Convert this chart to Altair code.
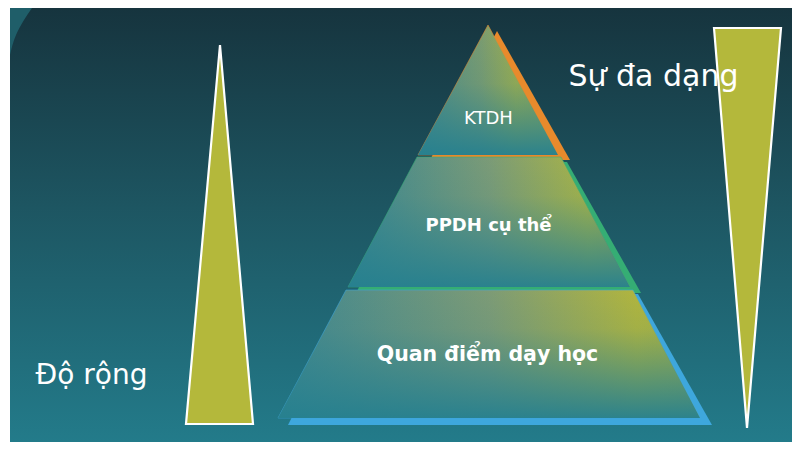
import altair as alt
import pandas as pd

# ---------------- data (image pixel space) ----------------
X_MIN, X_MAX = 10, 792
Y_MIN, Y_MAX = 8, 442

# background gradient colours
bg_colors = ["#16343e", "#1d5561", "#237b8a"]

# top-left lighter wedge
wedge_y = [8, 20, 35, 55]
wedge_xl = [10, 10, 10, 10]
wedge_xr = [32, 24, 16, 10]

# pyramid layers (main faces)
layer_names = ["KTDH", "PPDH cụ thể", "Quan điểm dạy học"]
layer_y_top = [25, 157, 290]
layer_y_bottom = [155, 287, 418]
layer_xl_top = [488, 417, 346]
layer_xr_top = [488, 561, 633]
layer_xl_bottom = [418, 348, 278]
layer_xr_bottom = [558, 630, 700]
layer_edge_colors = ["#e88a2c", "#35ad74", "#3ea7dd"]

# offset (3D edge) faces behind each layer
shadow_y_top = [31, 162, 294]
shadow_y_bottom = [160, 293, 425]
shadow_xl_top = [497, 424, 354]
shadow_xr_top = [497, 567, 638]
shadow_xl_bottom = [430, 356, 288]
shadow_xr_bottom = [570, 641, 712]

# labels of layers
label_x = [488.5, 488.5, 487.5]
label_y = [124, 231, 361]
label_size = [18, 18, 20.5]

# side wedges
wedge_names = ["Độ rộng", "Sự đa dạng"]
side_y_top = [45, 28]
side_y_bottom = [424, 428]
side_xl_top = [220, 714]
side_xr_top = [220, 781]
side_xl_bottom = [186, 747]
side_xr_bottom = [253, 747]
side_label_x = [91.5, 653.5]
side_label_y = [384, 86]
side_label_size = [28, 30]


def poly_df(names, yt, yb, xlt, xrt, xlb, xrb):
    rows = []
    for i, n in enumerate(names):
        rows.append({"name": n, "y": yt[i], "xl": xlt[i], "xr": xrt[i]})
        rows.append({"name": n, "y": yb[i], "xl": xlb[i], "xr": xrb[i]})
    return pd.DataFrame(rows)


W, H = X_MAX - X_MIN, Y_MAX - Y_MIN
xs = alt.Scale(domain=[X_MIN, X_MAX], nice=False, zero=False)
ys = alt.Scale(domain=[Y_MIN, Y_MAX], nice=False, zero=False, reverse=True)


def area_enc(chart):
    return chart.encode(
        y=alt.Y("y:Q", scale=ys, axis=None),
        x=alt.X("xl:Q", scale=xs, axis=None, stack=None),
        x2="xr:Q",
        detail="name:N",
    )


# background
bg_df = pd.DataFrame({"x": [X_MIN], "x2": [X_MAX], "y": [Y_MIN], "y2": [Y_MAX]})
background = alt.Chart(bg_df).mark_rect(
    fill=alt.LinearGradient(
        gradient="linear", x1=0, y1=0, x2=0, y2=1,
        stops=[alt.GradientStop(color=bg_colors[0], offset=0),
               alt.GradientStop(color=bg_colors[1], offset=0.45),
               alt.GradientStop(color=bg_colors[2], offset=1)],
    ),
).encode(
    x=alt.X("x:Q", scale=xs, axis=None), x2="x2:Q",
    y=alt.Y("y:Q", scale=ys, axis=None), y2="y2:Q",
)

wedge_df = pd.DataFrame({"name": "w", "y": wedge_y, "xl": wedge_xl, "xr": wedge_xr})
wedge = area_enc(alt.Chart(wedge_df).mark_area(orient="horizontal", color="#1f5e69", interpolate="monotone"))

# side wedges
side_df = poly_df(wedge_names, side_y_top, side_y_bottom, side_xl_top, side_xr_top,
                  side_xl_bottom, side_xr_bottom)
sides = area_enc(alt.Chart(side_df).mark_area(
    orient="horizontal", fill="#b4b83b", stroke="white", strokeWidth=2.2, strokeJoin="miter"))

# shadow faces
layers = [background, wedge, sides]
for i in range(3):
    sdf = poly_df([layer_names[i]], [shadow_y_top[i]], [shadow_y_bottom[i]], [shadow_xl_top[i]],
                  [shadow_xr_top[i]], [shadow_xl_bottom[i]], [shadow_xr_bottom[i]])
    layers.append(area_enc(alt.Chart(sdf).mark_area(orient="horizontal", color=layer_edge_colors[i])))

# main faces with gradients
h_stops = [
    [("#4d8c88", 0), ("#7c9c70", 0.45), ("#9fae4d", 0.7), ("#95aa55", 1)],
    [("#3c8790", 0), ("#7b9b77", 0.5), ("#aab445", 0.85), ("#a3b048", 1)],
    [("#3f8790", 0), ("#7d9b76", 0.5), ("#b1b53e", 0.85), ("#a8b244", 1)],
]
v_stops = [
    [("rgba(38,128,143,0)", 0), ("rgba(38,128,143,0.15)", 0.45), ("rgba(38,128,143,0.95)", 1)],
    [("rgba(38,128,143,0)", 0), ("rgba(38,128,143,0.1)", 0.3), ("rgba(38,128,143,0.95)", 1)],
    [("rgba(38,128,143,0)", 0), ("rgba(38,128,143,0.1)", 0.3), ("rgba(38,128,143,0.95)", 1)],
]
for i in range(3):
    mdf = poly_df([layer_names[i]], [layer_y_top[i]], [layer_y_bottom[i]], [layer_xl_top[i]],
                  [layer_xr_top[i]], [layer_xl_bottom[i]], [layer_xr_bottom[i]])
    hg = alt.LinearGradient(gradient="linear", x1=0, y1=0, x2=1, y2=0,
                            stops=[alt.GradientStop(color=c, offset=o) for c, o in h_stops[i]])
    vg = alt.LinearGradient(gradient="linear", x1=0, y1=0, x2=0, y2=1,
                            stops=[alt.GradientStop(color=c, offset=o) for c, o in v_stops[i]])
    layers.append(area_enc(alt.Chart(mdf).mark_area(orient="horizontal", fill=hg,
                                                    stroke=layer_edge_colors[i], strokeWidth=0.8,
                                                    strokeOpacity=0.7)))
    layers.append(area_enc(alt.Chart(mdf).mark_area(orient="horizontal", fill=vg)))

# labels
lab_df = pd.DataFrame({"text": layer_names, "x": label_x, "y": label_y, "size": label_size})
lab_regular = alt.Chart(lab_df.iloc[[0]]).mark_text(
    font="DejaVu Sans", color="white", baseline="alphabetic", align="center"
).encode(x=alt.X("x:Q", scale=xs, axis=None), y=alt.Y("y:Q", scale=ys, axis=None),
         text="text:N", size=alt.Size("size:Q", scale=None, legend=None))
lab_bold = alt.Chart(lab_df.iloc[[1, 2]]).mark_text(
    font="DejaVu Sans", fontWeight="bold", color="white", baseline="alphabetic", align="center"
).encode(x=alt.X("x:Q", scale=xs, axis=None), y=alt.Y("y:Q", scale=ys, axis=None),
         text="text:N", size=alt.Size("size:Q", scale=None, legend=None))

side_lab_df = pd.DataFrame({"text": wedge_names, "x": side_label_x, "y": side_label_y,
                            "size": side_label_size})
side_labels = alt.Chart(side_lab_df).mark_text(
    font="DejaVu Sans", color="white", baseline="alphabetic", align="center"
).encode(x=alt.X("x:Q", scale=xs, axis=None), y=alt.Y("y:Q", scale=ys, axis=None),
         text="text:N", size=alt.Size("size:Q", scale=None, legend=None))

layers += [lab_regular, lab_bold, side_labels]

chart = alt.layer(*layers).properties(
    width=W, height=H,
    padding={"left": 2, "top": 0, "right": 0, "bottom": 0},
    autosize=alt.AutoSizeParams(type="none"),
    background="white",
).configure_view(stroke=None)

chart.save("out.html", embed_options={"renderer": "svg", "actions": False})
